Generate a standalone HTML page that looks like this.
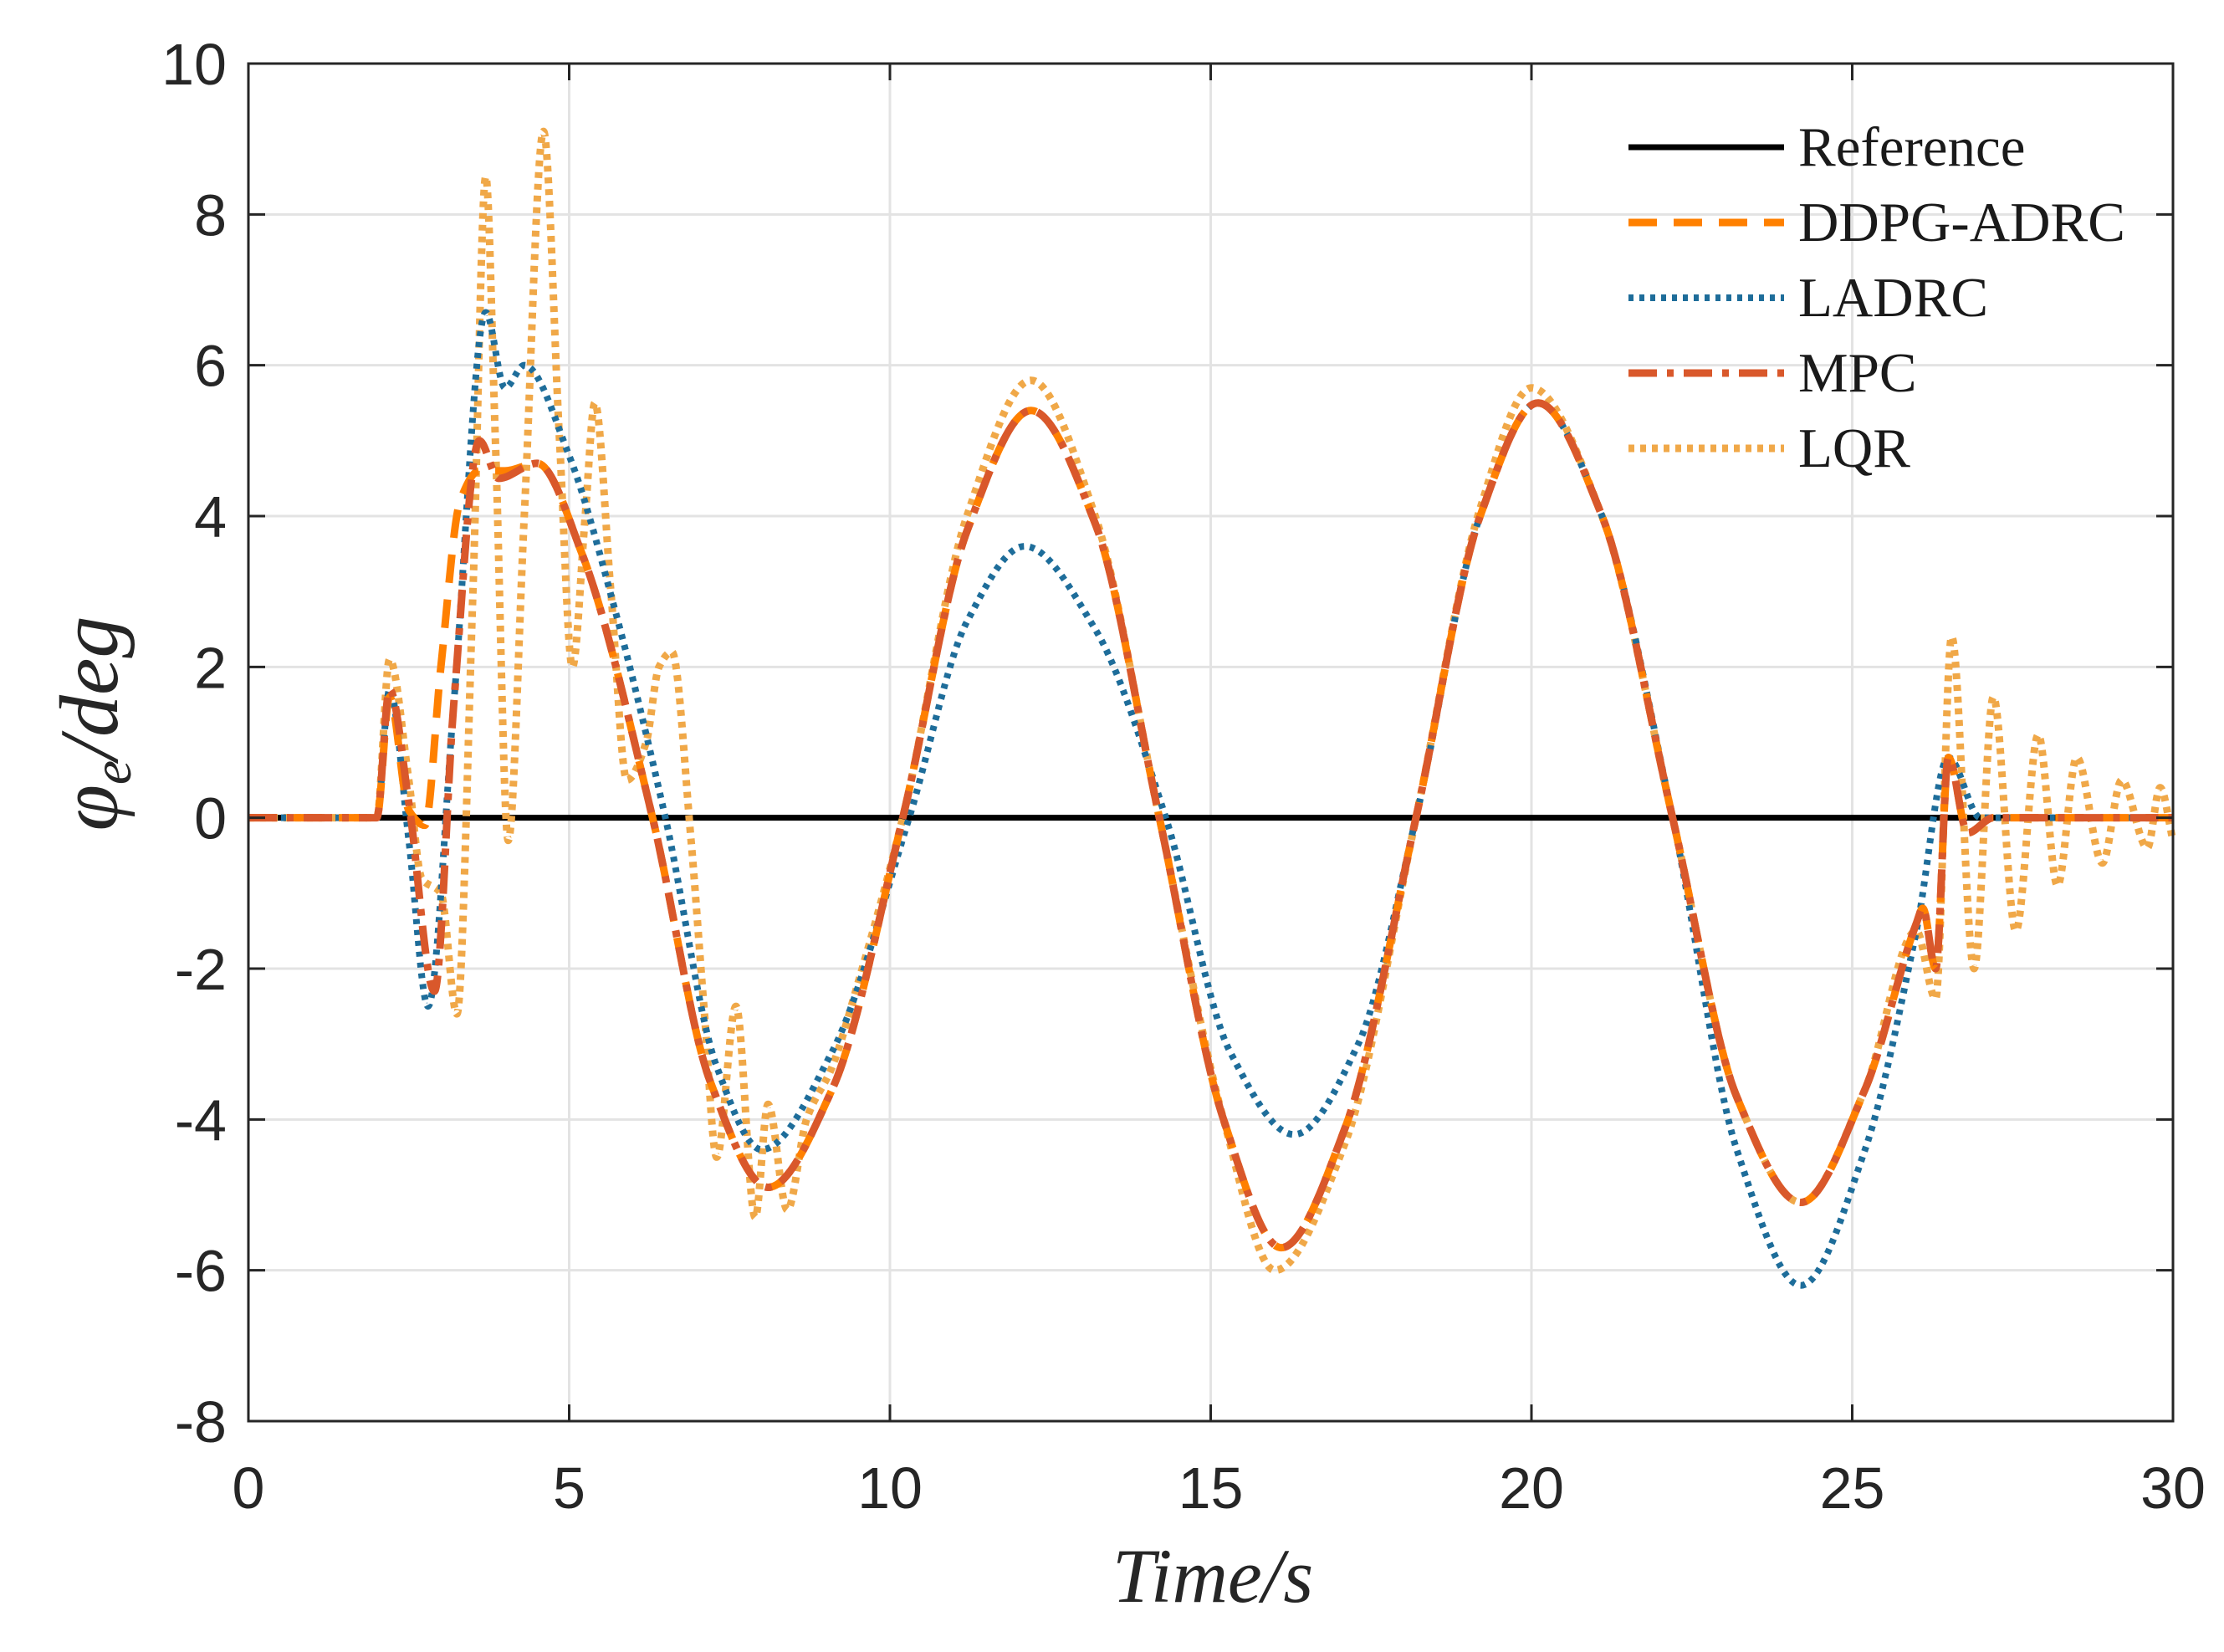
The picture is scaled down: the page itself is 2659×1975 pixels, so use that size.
<!DOCTYPE html>
<html><head><meta charset="utf-8"><style>
html,body{margin:0;padding:0;background:#fff;}
svg{display:block;}
</style></head><body>
<svg id="chart" width="2659" height="1975" xmlns="http://www.w3.org/2000/svg">
<g id="grid"></g>
<g id="series"></g>
<g id="axes"></g>
<g id="legend"></g>
<text transform="translate(140,865) rotate(-90)" text-anchor="middle" font-family="Liberation Serif, serif" font-style="italic" font-size="100" fill="#262626">φ<tspan font-size="66" dy="16">e</tspan><tspan dy="-16">/deg</tspan></text>
<text x="1450" y="1915" text-anchor="middle" font-family="Liberation Serif, serif" font-style="italic" font-size="92" fill="#262626">Time/s</text>
</svg>
<script>
const xTicks=[0,5,10,15,20,25,30];
const yTicks=[-8,-6,-4,-2,0,2,4,6,8,10];
const tRef=[0,30];
const vRef=[0,0];
const tDDPG=[0,2,2.2,2.5,2.75,3.0,3.3,3.6,4.0,4.5,5.2,6.3,7.2,8.1,9.1,10.2,11.2,12.2,13.2,14.2,15.2,16.1,17.1,18.2,19.2,20.1,21.1,22.2,23.2,24.2,25.2,26.0,26.1,26.3,26.5,26.8,27.2,30];
const vDDPG=[0,0,1.6,0.1,-0.1,2.0,4.2,4.6,4.6,4.7,3.5,0,-3.5,-4.9,-3.6,0,3.8,5.4,3.9,0,-4,-5.7,-4.1,0,4,5.5,4,0,-3.7,-5.1,-3.6,-1.4,-1.2,-2,0.8,-0.2,0,0];
const tLADRC=[0,2,2.2,2.5,2.8,3.2,3.7,4.0,4.3,5.0,5.7,6.5,7.3,8.0,9.1,10.3,11.2,12.1,13.2,14.3,15.3,16.3,17.3,18.2,19.2,20.1,21.1,22.2,23.2,24.2,25.2,26.0,26.5,27.0,30];
const vLADRC=[0,0,1.7,-0.3,-2.5,1.5,6.7,5.7,6,4.8,2.8,0,-3.3,-4.4,-3.1,0,2.6,3.6,2.5,0,-3.1,-4.2,-3,0,4,5.5,4,0,-4.4,-6.2,-4.4,-1.5,0.8,0,0];
const tMPC=[0,2,2.2,2.5,2.9,3.2,3.6,3.9,4.5,5.2,6.3,7.2,8.1,9.1,10.2,11.2,12.2,13.2,14.2,15.2,16.1,17.1,18.2,19.2,20.1,21.1,22.2,23.2,24.2,25.2,26.0,26.1,26.3,26.5,26.8,27.2,30];
const vMPC=[0,0,1.7,0.2,-2.3,1.5,5,4.5,4.7,3.5,0,-3.5,-4.9,-3.6,0,3.8,5.4,3.9,0,-4,-5.7,-4.1,0,4,5.5,4,0,-3.7,-5.1,-3.6,-1.4,-1.2,-2,0.8,-0.2,0,0];
const tLQR=[0,2,2.2,2.5,2.7,3.0,3.25,3.5,3.7,3.85,4.05,4.3,4.6,4.85,5.05,5.25,5.4,5.65,5.9,6.2,6.4,6.6,6.9,7.1,7.3,7.6,7.9,8.1,8.4,8.7,9.1,9.5,10.2,11.2,12.2,13.2,14.2,15.2,16.0,17.1,18.2,19.2,20.0,21.1,22.2,23.2,24.2,25.2,26.0,26.3,26.55,26.9,27.2,27.55,27.9,28.2,28.5,28.9,29.2,29.6,29.8,30];
const vLQR=[0,0,2.1,0.5,-0.8,-1,-2.6,3,8.5,5,-0.3,4,9.1,5,2,4,5.5,3,0.5,1,2,2.2,-0.3,-2.5,-4.5,-2.5,-5.3,-3.8,-5.2,-4,-3.3,-2.2,0,4,5.8,4,0,-4,-6,-4.3,0,4.1,5.7,4,0,-3.7,-5.1,-3.6,-1.5,-2.4,2.4,-2,1.6,-1.5,1.1,-0.9,0.8,-0.6,0.5,-0.4,0.4,-0.3];
const legendLabels=["Reference","DDPG-ADRC","LADRC","MPC","LQR"];

const NS="http://www.w3.org/2000/svg";
const L=297,R=2598,T=76,B=1699;
const xs=t=>L+(t-0)/(30-0)*(R-L);
const ys=v=>B-(v+8)/18*(B-T);
function mk(tag,attrs,parent){const e=document.createElementNS(NS,tag);for(const k in attrs)e.setAttribute(k,attrs[k]);parent.appendChild(e);return e;}
const grid=document.getElementById('grid'),axes=document.getElementById('axes'),ser=document.getElementById('series'),leg=document.getElementById('legend');
xTicks.forEach(t=>{
  const g=mk('line',{x1:xs(t),x2:xs(t),y1:T,y2:B,stroke:'#e3e3e3','stroke-width':3},grid);
  
  
  const tk=mk('line',{x1:xs(t),x2:xs(t),y1:B,y2:B-20,stroke:'#262626','stroke-width':3},axes);
  
  
  const tx=mk('text',{x:xs(t),y:B+104,'text-anchor':'middle','font-family':'Liberation Sans, sans-serif','font-size':70,fill:'#262626'},axes);
  tx.textContent=t;
  
  
});
yTicks.forEach(v=>{
  const g=mk('line',{x1:L,x2:R,y1:ys(v),y2:ys(v),stroke:'#e3e3e3','stroke-width':3},grid);
  
  
  const tk=mk('line',{x1:L,x2:L+20,y1:ys(v),y2:ys(v),stroke:'#262626','stroke-width':3},axes);
  
  
  const tk2=mk('line',{x1:R,x2:R-20,y1:ys(v),y2:ys(v),stroke:'#262626','stroke-width':3},axes);
  
  
  const tx=mk('text',{x:L-26,y:ys(v)+25,'text-anchor':'end','font-family':'Liberation Sans, sans-serif','font-size':70,fill:'#262626'},axes);
  tx.textContent=v;
  
  
});
const frame=mk('rect',{x:L,y:T,width:R-L,height:B-T,fill:'none',stroke:'#262626','stroke-width':3},axes);


xTicks.forEach(t=>{
  const tk=mk('line',{x1:xs(t),x2:xs(t),y1:T,y2:T+20,stroke:'#262626','stroke-width':3},axes);
  
  
});
function pathD(ts,vs){
  const n=ts.length,x=ts.map(xs),y=vs.map(ys);
  const d=[],m=new Array(n).fill(0);
  for(let i=0;i<n-1;i++)d.push((y[i+1]-y[i])/(x[i+1]-x[i]));
  m[0]=d[0];m[n-1]=d[n-2];
  for(let i=1;i<n-1;i++){
    if(d[i-1]*d[i]<=0)m[i]=0;
    else{const w1=2*(x[i+1]-x[i])+(x[i]-x[i-1]),w2=(x[i+1]-x[i])+2*(x[i]-x[i-1]);m[i]=(w1+w2)/(w1/d[i-1]+w2/d[i]);}
  }
  let s='M'+x[0]+','+y[0];
  for(let i=0;i<n-1;i++){
    const h=(x[i+1]-x[i])/3;
    s+=' C'+(x[i]+h)+','+(y[i]+m[i]*h)+' '+(x[i+1]-h)+','+(y[i+1]-m[i+1]*h)+' '+x[i+1]+','+y[i+1];
  }
  return s;
}
const styles=[
  {name:'reference',t:tRef,v:vRef,color:'#000000',w:7,dash:''},
  {name:'lqr',t:tLQR,v:vLQR,color:'#F0A848',w:9,dash:'7 7'},
  {name:'ladrc',t:tLADRC,v:vLADRC,color:'#1E6D9A',w:8,dash:'6 7'},
  {name:'ddpg-adrc',t:tDDPG,v:vDDPG,color:'#FF8000',w:9,dash:'34 20'},
  {name:'mpc',t:tMPC,v:vMPC,color:'#D9582B',w:9,dash:'34 12 8 12'}
];
styles.forEach(s=>{
  const p=mk('path',{d:pathD(s.t,s.v),fill:'none',stroke:s.color,'stroke-width':s.w,'stroke-dasharray':s.dash,'stroke-linejoin':'round'},ser);
  
  
});
const legStyles=[styles[0],styles[3],styles[2],styles[4],styles[1]];
legendLabels.forEach((lab,i)=>{
  const y=176+i*90,s=legStyles[i];
  const ln=mk('line',{x1:1947,x2:2133,y1:y,y2:y,stroke:s.color,'stroke-width':s.w,'stroke-dasharray':s.dash},leg);
  
  
  const tx=mk('text',{x:2150,y:y+22,'font-family':'Liberation Serif, serif','font-size':67,fill:'#1a1a1a'},leg);
  tx.textContent=lab;
  
  
});
</script>
</body></html>
